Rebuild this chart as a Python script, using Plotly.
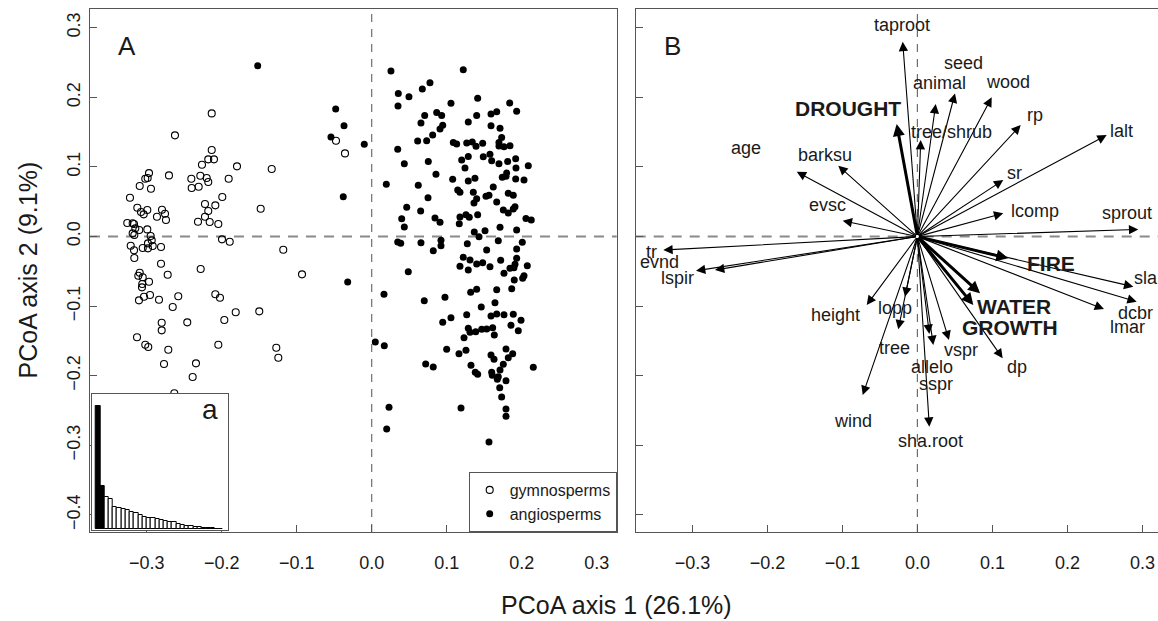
import plotly.graph_objects as go

# ---------------- data ----------------
# PCoA scores, panel A
gymno_x = [-0.2133, -0.2623, -0.2133, -0.2179, -0.2103, -0.2263, -0.1796, -0.1333, -0.2969, -0.2703,
           -0.3019, -0.2987, -0.2405, -0.2285, -0.2200, -0.1907, -0.2179, -0.3093, -0.2943, -0.2400,
           -0.2307, -0.3223, -0.1992, -0.2223, -0.2085, -0.1480, -0.3125, -0.3076, -0.2992, -0.3040,
           -0.2796, -0.2756, -0.2863, -0.2743, -0.2179, -0.2223, -0.2316, -0.2160, -0.2045, -0.3259,
           -0.3187, -0.3169, -0.3152, -0.3099, -0.2992, -0.3187, -0.3165, -0.2947, -0.2933, -0.2983,
           -0.2920, -0.2983, -0.3053, -0.2809, -0.3213, -0.3169, -0.3165, -0.1996, -0.1893, -0.1179,
           -0.2809, -0.2720, -0.2280, -0.0929, -0.3093, -0.3112, -0.3053, -0.3059, -0.2969, -0.3063,
           -0.3103, -0.3036, -0.2956, -0.2836, -0.2579, -0.2085, -0.2023, -0.2653, -0.1813, -0.1499,
           -0.2800, -0.2800, -0.2459, -0.1965, -0.3129, -0.3019, -0.2979, -0.2712, -0.2045, -0.1272,
           -0.1245, -0.2769, -0.2343, -0.2387, -0.2632, -0.0476, -0.0356]
gymno_y = [0.1770, 0.1454, 0.1243, 0.1109, 0.1109, 0.1032, 0.1009, 0.0970, 0.0912, 0.0879,
           0.0830, 0.0841, 0.0830, 0.0874, 0.0841, 0.0830, 0.0783, 0.0726, 0.0687, 0.0697,
           0.0716, 0.0557, 0.0568, 0.0467, 0.0448, 0.0399, 0.0414, 0.0352, 0.0381, 0.0319,
           0.0385, 0.0328, 0.0284, 0.0237, 0.0366, 0.0284, 0.0213, 0.0208, 0.0180, 0.0194,
           0.0190, 0.0180, 0.0118, 0.0093, 0.0103, 0.0046, 0.0022, 0.0007, -0.0055, -0.0098,
           -0.0136, -0.0170, -0.0165, -0.0151, -0.0132, -0.0198, -0.0309, -0.0040, -0.0075, -0.0190,
           -0.0391, -0.0549, -0.0467, -0.0543, -0.0520, -0.0563, -0.0586, -0.0682, -0.0649, -0.0730,
           -0.0917, -0.0865, -0.0841, -0.0908, -0.0859, -0.0830, -0.0879, -0.1013, -0.1089, -0.1075,
           -0.1239, -0.1348, -0.1233, -0.1200, -0.1448, -0.1555, -0.1588, -0.1626, -0.1555, -0.1598,
           -0.1741, -0.1832, -0.1822, -0.2019, -0.2253, 0.1376, 0.1195]

angio_x = [-0.1520, -0.0480, -0.0369, -0.0543, -0.0099, -0.0379, -0.0320, 0.0164, 0.0257, 0.0048,
           0.0168, 0.0231, 0.0200, 0.1191, 0.1564, 0.2155, 0.1791, 0.1791,
           0.1221, 0.0777, 0.0675, 0.0355, 0.0497, 0.0351, 0.1413, 0.1057, 0.1840, 0.1933,
           0.1667, 0.1591, 0.0867, 0.0933, 0.0707, 0.1400, 0.0657, 0.1288, 0.0947, 0.0911,
           0.1591, 0.1711, 0.0813, 0.0733, 0.0613, 0.0347, 0.1088, 0.1133, 0.1267, 0.1341,
           0.1391, 0.1480, 0.1733, 0.1697, 0.1697, 0.1764, 0.1844, 0.0435, 0.0755, 0.1200,
           0.1288, 0.1488, 0.1577, 0.1600, 0.1697, 0.1813, 0.1920, 0.1924, 0.2088, 0.1244,
           0.0857, 0.0195, 0.0621, 0.1080, 0.1288, 0.1377, 0.1800, 0.1741, 0.1791, 0.1920,
           0.2031, 0.1621, 0.1147, 0.1177, 0.0751, 0.1355, 0.1524, 0.1564, 0.1400, 0.1364,
           0.1821, 0.1888, 0.1667, 0.0467, 0.0653, 0.1755, 0.1821, 0.1888, 0.1911, 0.0400,
           0.0435, 0.0844, 0.0911, 0.1177, 0.1257, 0.1301, 0.1168, 0.1413, 0.1711, 0.1933,
           0.2057, 0.2128, 0.1368, 0.1431, 0.1511, 0.1688, 0.0347, 0.0387, 0.0657, 0.0924,
           0.0924, 0.0821, 0.1275, 0.1533, 0.2008, 0.1933,
           0.1221, 0.1311, 0.1177, 0.1288, 0.1400, 0.1480, 0.1577, 0.1720, 0.1933, 0.1911,
           0.1844, 0.1897, 0.1764, 0.2075, 0.2031, 0.2013, 0.1901, 0.0488, 0.0701, 0.0977,
           0.1320, 0.1400, 0.1667, 0.1867, 0.1461, 0.1644, 0.0947, 0.1057, 0.1267, 0.1591,
           0.1667, 0.1764, 0.1888, 0.1991, 0.1857, 0.1955, 0.1288, 0.1311, 0.1387, 0.1467,
           0.1533, 0.1613, 0.1231, 0.1635, 0.1000, 0.1164, 0.1257, 0.1591, 0.1631, 0.1791,
           0.1880, 0.1821, 0.1755, 0.1711, 0.0720, 0.0821, 0.1324, 0.1381, 0.1413, 0.1600,
           0.1608, 0.1688, 0.1675, 0.1791, 0.1707, 0.1733]
angio_y = [0.2454, 0.1832, 0.1592, 0.1430, 0.1325, 0.0572, -0.0654, -0.0830, 0.2378, -0.1516,
           -0.1569, -0.2454, -0.2766, -0.2464, -0.2953, -0.1879, -0.2478, -0.2583,
           0.2397, 0.2210, 0.2119, 0.2057, 0.2009, 0.1875, 0.1986, 0.1914, 0.1918, 0.1799,
           0.1793, 0.1760, 0.1784, 0.1741, 0.1741, 0.1741, 0.1631, 0.1645, 0.1598, 0.1545,
           0.1592, 0.1555, 0.1458, 0.1376, 0.1372, 0.1253, 0.1353, 0.1329, 0.1343, 0.1358,
           0.1296, 0.1339, 0.1425, 0.1353, 0.1300, 0.1290, 0.1305, 0.1046, 0.1080, 0.1099,
           0.1152, 0.1147, 0.1181, 0.1089, 0.1046, 0.1080, 0.1118, 0.0984, 0.1017, 0.0984,
           0.0894, 0.0750, 0.0736, 0.0822, 0.0797, 0.0836, 0.0912, 0.0851, 0.0865, 0.0826,
           0.0812, 0.0711, 0.0668, 0.0635, 0.0557, 0.0635, 0.0578, 0.0592, 0.0543, 0.0481,
           0.0621, 0.0592, 0.0496, 0.0420, 0.0366, 0.0381, 0.0338, 0.0395, 0.0428, 0.0256,
           0.0136, 0.0266, 0.0204, 0.0280, 0.0313, 0.0276, 0.0184, 0.0313, 0.0132, 0.0093,
           0.0261, 0.0237, 0.0065, -0.0003, 0.0083, -0.0060, -0.0079, -0.0098, -0.0089, -0.0055,
           -0.0132, -0.0204, -0.0103, -0.0194, -0.0083, -0.0180,
           -0.0299, -0.0338, -0.0428, -0.0481, -0.0395, -0.0376, -0.0434, -0.0342, -0.0313, -0.0399,
           -0.0457, -0.0448, -0.0529, -0.0420, -0.0563, -0.0601, -0.0625, -0.0506, -0.0922, -0.0874,
           -0.0802, -0.0759, -0.0764, -0.0750, -0.1013, -0.0951, -0.1233, -0.1167, -0.1124, -0.1142,
           -0.1114, -0.1124, -0.1118, -0.1204, -0.1276, -0.1353, -0.1319, -0.1376, -0.1368, -0.1333,
           -0.1329, -0.1310, -0.1454, -0.1415, -0.1621, -0.1684, -0.1635, -0.1703, -0.1764, -0.1616,
           -0.1684, -0.1741, -0.1836, -0.1918, -0.1832, -0.1875, -0.1851, -0.1951, -0.1980, -0.1951,
           -0.1994, -0.2014, -0.2052, -0.2072, -0.2172, -0.2306]

# eigenvalue spectrum (% of variance per axis), inset a
eig_pct = [26.1, 9.1, 6.9, 6.4, 4.8, 4.5, 4.2, 4.0, 3.75, 3.5,
           3.0, 2.7, 2.5, 2.3, 2.1, 2.0, 1.8, 1.6, 1.5, 1.1,
           0.9, 0.8, 0.64, 0.57, 0.42, 0.35, 0.28, 0.21, 0.14, 0.1]
n_axes_kept = 2

# trait / factor vectors, panel B
vec_names = ["taproot", "tree/shrub", "animal", "seed", "wood", "rp", "lalt", "sr", "lcomp",
             "sprout", "FIRE", "sla", "dcbr", "lmar", "WATER", "GROWTH", "dp", "vspr",
             "allelo", "sspr", "sha.root", "tree", "lopp", "height", "wind", "tr", "evnd",
             "lspir", "age", "barksu", "evsc", "DROUGHT"]
vec_x = [-0.0196, 0.0044, 0.0244, 0.0501, 0.0991, 0.1377, 0.2524, 0.1145, 0.1145,
         0.2945, 0.1212, 0.2879, 0.2924, 0.2488, 0.0835, 0.0745, 0.1137, 0.0421,
         0.0212, 0.0159, 0.0159, -0.0255, -0.0165, -0.0676, -0.0729, -0.3388, -0.2699,
         -0.2952, -0.1609, -0.1055, -0.0996, -0.0276]
vec_y = [0.2799, 0.1386, 0.1904, 0.2057, 0.2000, 0.1602, 0.1458, 0.0812, 0.0333,
         0.0103, -0.0313, -0.0721, -0.0937, -0.1042, -0.0816, -0.0984, -0.1750, -0.1487,
         -0.1559, -0.1400, -0.2733, -0.1333, -0.0865, -0.0984, -0.2277, -0.0194, -0.0481,
         -0.0491, 0.0931, 0.1017, 0.0227, 0.1616]
factor_names = ["FIRE", "WATER", "GROWTH", "DROUGHT"]

# label anchor points for the vector names (panel B coordinates)
label_x = [-0.0205, 0.0448, 0.0295, 0.0608, 0.1204, 0.1568, 0.2724, 0.1301, 0.1568,
           0.2791, 0.1785, 0.3045, 0.2905, 0.2801, 0.1288, 0.1231, 0.1324, 0.0579,
           0.0191, 0.0245, 0.0168, -0.0299, -0.0305, -0.1095, -0.0855, -0.3552, -0.3436,
           -0.3205, -0.2288, -0.1232, -0.1199, -0.0921]
label_y = [0.3039, 0.1506, 0.2201, 0.2497, 0.2224, 0.1746, 0.1520, 0.0908, 0.0371,
           0.0333, -0.0385, -0.0601, -0.1103, -0.1296, -0.0999, -0.1305, -0.1871, -0.1631,
           -0.1871, -0.2119, -0.2934, -0.1606, -0.1032, -0.1128, -0.2647, -0.0218, -0.0371,
           -0.0601, 0.1267, 0.1171, 0.0453, 0.1842]

tick_vals_x = [-0.3, -0.2, -0.1, 0.0, 0.1, 0.2, 0.3]
tick_vals_y = [-0.4, -0.3, -0.2, -0.1, 0.0, 0.1, 0.2, 0.3]

# ---------------- layout constants ----------------
W, H = 1158, 621
FONT = "Liberation Sans, Arial, Helvetica, sans-serif"
TXT = "#1a1a1a"
AXC = "#555555"


def fx(px):
    return px / W


def fy(py):
    return 1 - py / H


def fmt(v):
    s = f"{v:.1f}"
    return s.replace("-", "\u2212")


XR_A = [-0.3756, 0.3267]
XR_B = [-0.3756, 0.3208]
YR = [-0.4246, 0.327]

fig = go.Figure()

fig.add_trace(go.Scatter(
    x=gymno_x, y=gymno_y, mode="markers", name="gymnosperms",
    marker=dict(symbol="circle-open", size=7, color="black", line=dict(width=1.1)),
    xaxis="x", yaxis="y"))
fig.add_trace(go.Scatter(
    x=angio_x, y=angio_y, mode="markers", name="angiosperms",
    marker=dict(symbol="circle", size=7, color="black", line=dict(width=0)),
    xaxis="x", yaxis="y"))

bar_cols = ["black" if i < n_axes_kept else "white" for i in range(len(eig_pct))]
fig.add_trace(go.Bar(
    x=list(range(1, len(eig_pct) + 1)), y=eig_pct,
    marker=dict(color=bar_cols, line=dict(color="black", width=1)),
    xaxis="x3", yaxis="y3", showlegend=False, hoverinfo="skip"))

axis_common = dict(showgrid=False, zeroline=False, showline=True, linecolor=AXC, linewidth=1,
                   ticks="inside", ticklen=7, tickcolor=AXC, tickwidth=1,
                   tickfont=dict(family=FONT, size=18, color=TXT))

fig.update_layout(
    width=W, height=H, margin=dict(l=0, r=0, t=0, b=0),
    paper_bgcolor="white", plot_bgcolor="white",
    font=dict(family=FONT, color=TXT),
    bargap=0,
    xaxis=dict(domain=[fx(90), fx(616.7)], range=XR_A, mirror=True,
               tickvals=tick_vals_x, ticktext=[fmt(v) for v in tick_vals_x],
               ticklabelstandoff=14, **axis_common),
    yaxis=dict(domain=[fy(532), fy(9)], range=YR, mirror=True,
               tickvals=tick_vals_y, ticktext=[fmt(v) for v in tick_vals_y],
               tickangle=-90, ticklabelstandoff=2, **axis_common),
    xaxis2=dict(domain=[fx(635.7), 1.0], range=XR_B, mirror=True, anchor="y2",
                tickvals=tick_vals_x, ticktext=[fmt(v) for v in tick_vals_x],
                ticklabelstandoff=14, **axis_common),
    yaxis2=dict(domain=[fy(532), fy(9)], range=YR, mirror=False, anchor="x2",
                tickvals=tick_vals_y, showticklabels=False, **axis_common),
    xaxis3=dict(domain=[fx(91.7), fx(228)], range=[-0.52, 31.7], anchor="y3",
                showgrid=False, zeroline=False, showline=True, mirror=True,
                linecolor=AXC, linewidth=1, showticklabels=False, ticks=""),
    yaxis3=dict(domain=[fy(530), fy(394)], range=[-0.15, 28.7], anchor="x3",
                showgrid=False, zeroline=False, showline=True, mirror=True,
                linecolor=AXC, linewidth=1, showticklabels=False, ticks=""),
    legend=dict(x=fx(616.7), y=fy(532), xanchor="right", yanchor="bottom",
                bordercolor=AXC, borderwidth=1, bgcolor="white",
                font=dict(family=FONT, size=16, color=TXT),
                itemwidth=30, tracegroupgap=0),
)

# reference lines through the origin
shapes = []
for xr, yr in (("x", "y"), ("x2", "y2")):
    shapes.append(dict(type="line", xref=xr, yref=yr + " domain", x0=0, x1=0, y0=0, y1=1,
                       line=dict(color="#6e6e6e", width=1.2, dash="8px,7px"), layer="below"))
    shapes.append(dict(type="line", xref=xr + " domain", yref=yr, x0=0, x1=1, y0=0, y1=0,
                       line=dict(color="#8a8a8a", width=2, dash="10px,8px"), layer="below"))
fig.update_layout(shapes=shapes)

ann = []
# vectors
for name, vx, vy in zip(vec_names, vec_x, vec_y):
    bold = name in factor_names
    ann.append(dict(x=vx, y=vy, ax=0, ay=0, xref="x2", yref="y2", axref="x2", ayref="y2",
                    text="", showarrow=True, arrowhead=2,
                    arrowwidth=3.0 if bold else 1.1,
                    arrowsize=0.8 if bold else 1.7,
                    arrowcolor="black", standoff=0, startstandoff=0))
# vector labels
for name, lx, ly in zip(vec_names, label_x, label_y):
    bold = name in factor_names
    ann.append(dict(x=lx, y=ly, xref="x2", yref="y2", showarrow=False,
                    text=f"<b>{name}</b>" if bold else name,
                    font=dict(family=FONT, size=21 if bold else 18, color=TXT),
                    xanchor="center", yanchor="middle"))

# panel letters
ann.append(dict(x=fx(127), y=fy(46), xref="paper", yref="paper", text="A", showarrow=False,
                font=dict(family=FONT, size=26, color=TXT), xanchor="center", yanchor="middle"))
ann.append(dict(x=fx(672), y=fy(46), xref="paper", yref="paper", text="B", showarrow=False,
                font=dict(family=FONT, size=26, color=TXT), xanchor="center", yanchor="middle"))
ann.append(dict(x=fx(210), y=fy(409), xref="paper", yref="paper", text="a", showarrow=False,
                font=dict(family=FONT, size=28, color=TXT), xanchor="center", yanchor="middle"))
# axis titles
ann.append(dict(x=fx(616), y=fy(605), xref="paper", yref="paper", text="PCoA axis 1 (26.1%)",
                showarrow=False, font=dict(family=FONT, size=25, color=TXT),
                xanchor="center", yanchor="middle"))
ann.append(dict(x=fx(28), y=fy(270.5), xref="paper", yref="paper", text="PCoA axis 2 (9.1%)",
                showarrow=False, textangle=-90, font=dict(family=FONT, size=25, color=TXT),
                xanchor="center", yanchor="middle"))
fig.update_layout(annotations=ann)

fig.write_html("out.html")
